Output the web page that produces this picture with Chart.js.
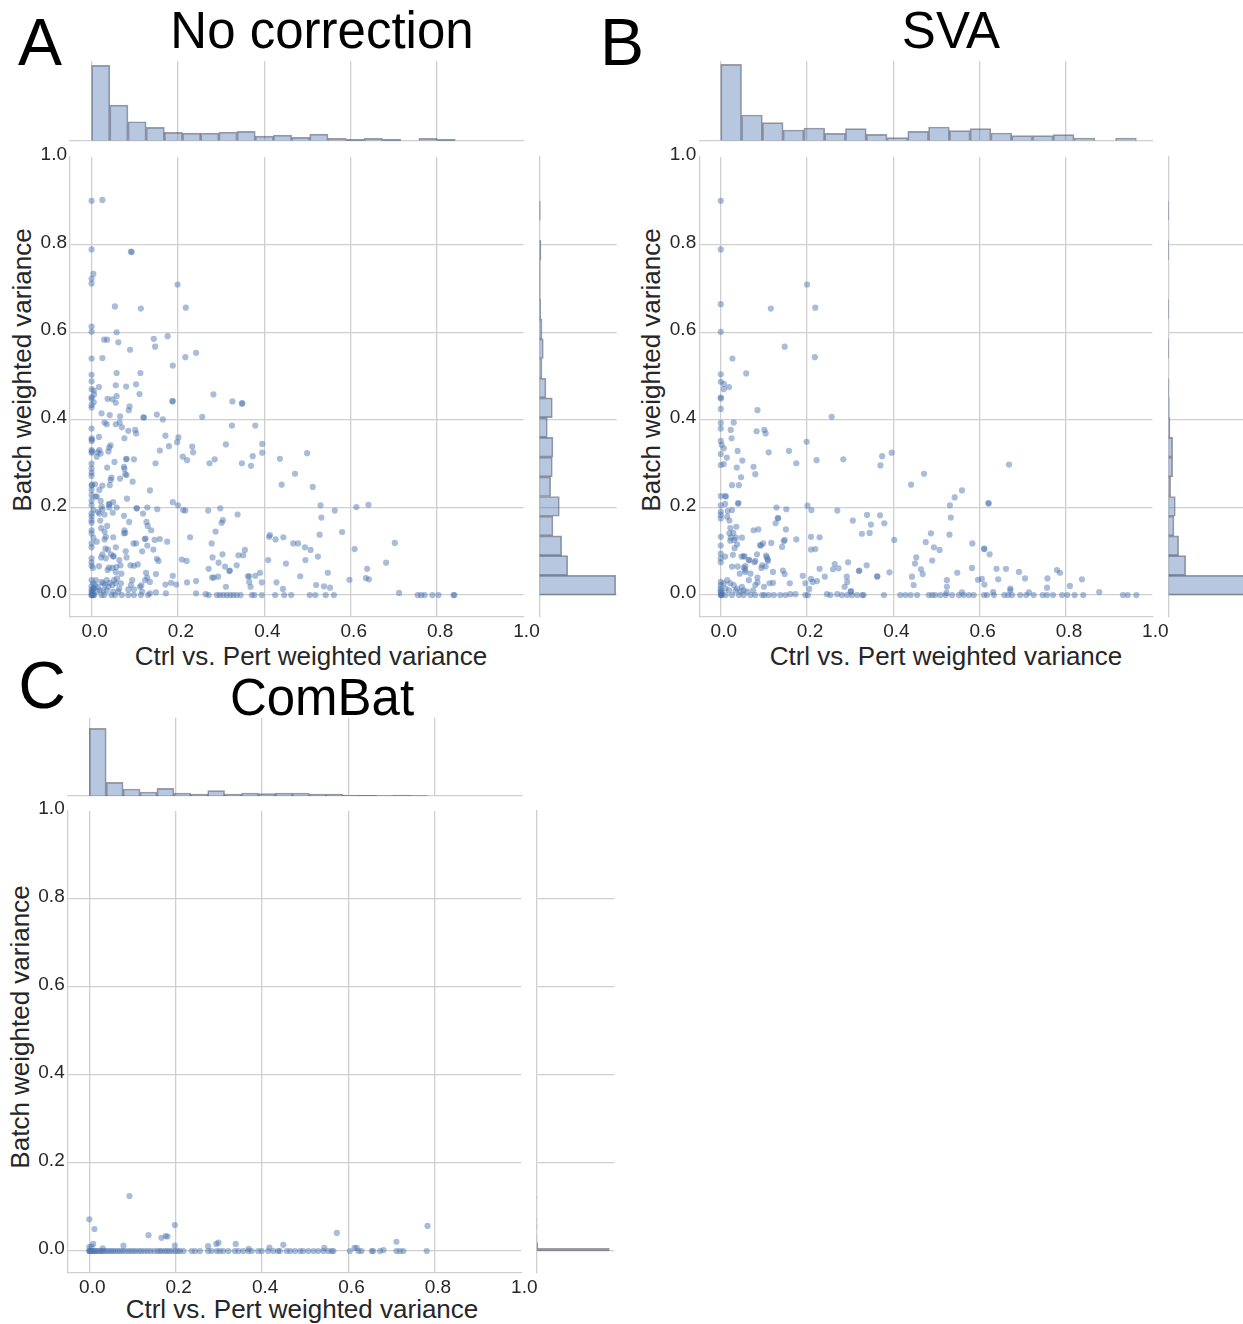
<!DOCTYPE html>
<html>
<head>
<meta charset="utf-8">
<script src="https://cdn.jsdelivr.net/npm/chart.js@4.4.0/dist/chart.umd.min.js"></script>
<style>
  html, body { margin: 0; padding: 0; background: #fff; width: 1243px; height: 1324px; overflow: hidden; position: relative; }
  canvas { position: absolute; }
  .t { position: absolute; font-family: 'Liberation Sans', Arial, sans-serif; white-space: nowrap; line-height: 1; color: #000; transform: translate(-50%, -50%); }
  .axt { font-size: 26px; color: #262626; }
  .rot { transform: translate(-50%, -50%) rotate(-90deg); }
</style>
</head>
<body>
<div class="t" style="left:40px;top:42px;font-size:66px">A</div>
<div class="t" style="left:322px;top:30px;font-size:51px">No correction</div>
<div class="t" style="left:622px;top:42px;font-size:66px">B</div>
<div class="t" style="left:951px;top:30px;font-size:51px">SVA</div>
<div class="t" style="left:42px;top:685px;font-size:66px">C</div>
<div class="t" style="left:322px;top:697px;font-size:51px">ComBat</div>
<div class="t axt" style="left:311px;top:656px">Ctrl vs. Pert weighted variance</div>
<div class="t axt" style="left:946px;top:656px">Ctrl vs. Pert weighted variance</div>
<div class="t axt" style="left:302px;top:1309px">Ctrl vs. Pert weighted variance</div>
<div class="t axt rot" style="left:22px;top:370px">Batch weighted variance</div>
<div class="t axt rot" style="left:651px;top:370px">Batch weighted variance</div>
<div class="t axt rot" style="left:20px;top:1027px">Batch weighted variance</div>
<script>
// ---- tick values shared by every axis ----
const tickValues = [0.0, 0.2, 0.4, 0.6, 0.8, 1.0];
const axisMin = -0.05;
const axisMax = 1.0;

// ---- scatter points [ctrl vs pert variance, batch variance] ----
const ptsNoCorrection = [
  [0,0.9],[0.025,0.902],[0,0.789],[0.091,0.784],[0.093,0.783],[0,0.722],[0,0.711],[0.004,0.733],[0.054,0.659],[0.114,0.654],[0.199,0.709],[0.218,0.656],
  [0,0.613],[0,0.601],[0.029,0.583],[0.036,0.583],[0.058,0.6],[0.062,0.577],[0.025,0.541],[0,0.54],[0.089,0.56],[0.144,0.585],[0.147,0.567],[0.176,0.591],[0.217,0.543],[0.242,0.553],[0.188,0.524],
  [0,0.503],[0,0.488],[0.058,0.507],[0.113,0.507],[0.017,0.475],[0.056,0.479],[0.08,0.476],[0.103,0.481],[0,0.47],[0.005,0.467],[0.006,0.458],[0.111,0.459],
  [0,0.452],[0,0.448],[0.037,0.448],[0.048,0.447],[0.058,0.454],[0.056,0.439],[0,0.434],[0,0.428],[0.005,0.44],[0.088,0.431],[0.086,0.422],[0.187,0.442],[0.188,0.443],[0.282,0.458],[0.326,0.442],[0.348,0.437],[0.349,0.438],
  [0.023,0.415],[0.042,0.411],[0.066,0.408],[0.12,0.406],[0.121,0.405],[0.151,0.412],[0.165,0.401],[0.256,0.407],
  [0.03,0.394],[0.035,0.39],[0.056,0.39],[0.065,0.394],[0.07,0.383],[0.085,0.375],[0.101,0.377],[0.103,0.369],[0,0.38],[0.325,0.387],[0.379,0.387],
  [0.017,0.361],[0,0.358],[0,0.352],[0.001,0.355],[0.076,0.358],[0.171,0.364],[0.201,0.36],
  [0.044,0.342],[0.041,0.337],[0.018,0.331],[0.014,0.326],[0.021,0.323],[0.039,0.328],[0,0.331],[0,0.325],[0.001,0.328],
  [0.158,0.33],[0.179,0.34],[0.198,0.349],[0.211,0.316],[0.221,0.308],[0.233,0.339],[0.235,0.326],[0.311,0.344],[0.395,0.345],[0.395,0.325],[0.373,0.317],[0.436,0.311],
  [0.012,0.316],[0.08,0.31],[0.081,0.311],[0.098,0.31],[0.053,0.304],[0.148,0.301],[0.273,0.301],[0.285,0.31],[0.348,0.301],[0.369,0.295],
  [0,0.3],[0,0.289],[0,0.279],[0,0.272],[0.036,0.291],[0.075,0.293],[0.076,0.288],[0.078,0.276],[0.081,0.274],
  [0.046,0.268],[0.044,0.263],[0.066,0.266],[0.095,0.259],[0.042,0.251],[0,0.25],[0.001,0.252],[0.008,0.253],[0.025,0.25],[0.44,0.252],[0.471,0.277],
  [0.018,0.24],[0.135,0.239],[0,0.24],[0,0.228],[0.009,0.225],[0.012,0.225],[0.021,0.215],[0.082,0.22],[0.04,0.207],[0.041,0.208],[0.05,0.212],
  [0,0.215],[0,0.205],[0.004,0.194],[0.023,0.202],[0.025,0.196],[0.041,0.2],[0.058,0.2],[0.104,0.198],[0.105,0.198],[0.129,0.2],[0.152,0.196],[0.188,0.212],[0.2,0.205],[0.212,0.194],[0.217,0.193],[0.27,0.193],[0.298,0.198],
  [0,0.186],[0,0.18],[0,0.171],[0,0.165],[0.015,0.19],[0.018,0.186],[0.03,0.184],[0.049,0.188],[0.075,0.181],[0.119,0.186],[0.087,0.167],[0.127,0.167],[0.13,0.158],[0.304,0.171],[0.301,0.165],[0.338,0.184],
  [0.02,0.17],[0.022,0.153],[0.036,0.158],[0.03,0.145],[0.033,0.133],[0.03,0.127],[0.076,0.148],[0.078,0.142],[0.075,0.141],[0.138,0.148],[0.287,0.145],
  [0,0.148],[0,0.141],[0.004,0.131],[0.05,0.132],[0.125,0.129],[0.123,0.128],[0.146,0.126],[0.158,0.128],[0.175,0.122],[0.228,0.132],
  [0.413,0.137],[0.411,0.133],[0.426,0.127],[0.444,0.132],[0.467,0.118],[0.478,0.118],
  [0.278,0.118],[0.097,0.118],[0.103,0.118],[0,0.118],[0,0.109],[0.012,0.122],
  [0.032,0.106],[0.038,0.104],[0.056,0.109],[0.079,0.1],[0.117,0.1],[0.129,0.113],[0.143,0.104],
  [0.025,0.093],[0.022,0.086],[0.05,0.088],[0.051,0.089],[0.033,0.084],[0.045,0.093],[0.064,0.08],[0.081,0.086],[0.151,0.083],[0.155,0.078],[0.209,0.081],[0.22,0.078],
  [0.303,0.093],[0.28,0.086],[0.34,0.091],[0.355,0.103],[0.351,0.091],[0.409,0.08],
  [0,0.084],[0,0.075],[0,0.067],[0.003,0.062],[0.017,0.066],[0.04,0.063],[0.048,0.062],[0.057,0.064],[0.067,0.068],[0.09,0.068],[0.098,0.067],[0.107,0.07],[0.037,0.057],[0.069,0.049],[0.056,0.053],
  [0.126,0.051],[0.149,0.048],[0.271,0.06],[0.294,0.074],[0.309,0.065],[0.319,0.055],[0.32,0.056],[0.336,0.068],[0.39,0.051],[0.45,0.072],[0.443,0.014],
  [0.188,0.044],[0.171,0.024],[0.184,0.028],[0.196,0.024],[0.279,0.04],[0.283,0.04],[0.293,0.042],[0.242,0.032],[0.221,0.029],[0.362,0.043],[0.365,0.043],[0.379,0.044],[0.428,0.029],[0.394,0.029],[0.365,0.03],[0.311,0.019],[0.368,0.019],
  [0,0.034],[0.004,0.027],[0.002,0.011],[0.01,0.034],[0.015,0.019],[0.023,0.03],[0.027,0.027],[0.031,0.023],[0.035,0.034],[0.039,0.019],[0.042,0.028],[0.048,0.023],[0.052,0.034],[0.056,0.027],[0.064,0.015],[0.068,0.027],[0.059,0.038],
  [0.004,0.015],[0.012,0.009],[0.019,0.011],[0.027,0.011],[0.035,0.01],[0.05,0.008],[0.062,0.008],[0.085,0.013],[0.091,0.023],[0.098,0.013],[0.094,0.034],[0.112,0.019],[0.115,0.022],[0.124,0.034],[0.129,0.04],[0.135,0.03],
  [0.117,0.008],[0.149,0.006],[0.135,0.004],[0.172,0.004],[0.242,0.004],[0.264,0.002],[0,0.02],[0,0.012],[0,0.006],[0.002,0.004],[0.005,0.015],[0.008,0.022],
  [0,0],[0,0],[0.002,0],[0.004,0],[0.006,0],[0.023,0],[0.029,0],[0.046,0],[0.054,0],[0.07,0],[0.085,0],[0.098,0],[0.114,0],[0.131,0],[0.271,0],[0.29,0],[0.297,0],[0.305,0],[0.313,0],[0.321,0],[0.328,0],[0.336,0],[0.345,0],[0.371,0],[0.377,0],[0.394,0],[0.425,0],[0.446,0],[0.462,0],
  [0.505,0],[0.518,0],[0.542,0],[0.561,0],[0.755,0],[0.763,0],[0.771,0],[0.789,0],[0.803,0],[0.838,0],[0.84,0],
  [0.499,0.324],[0.512,0.247],[0.53,0.205],[0.563,0.193],[0.532,0.177],[0.613,0.201],[0.641,0.206],[0.58,0.144],[0.528,0.138],[0.494,0.109],[0.507,0.103],[0.495,0.08],[0.524,0.088],[0.609,0.105],[0.702,0.119],[0.682,0.074],[0.638,0.06],[0.547,0.051],[0.483,0.043],[0.635,0.039],[0.642,0.036],[0.597,0.035],[0.52,0.023],[0.538,0.02],[0.552,0.017],[0.712,0.005]
];

const ptsSVA = [
  [0,0.9],[0,0.789],[0,0.664],[0,0.601],[0.2,0.709],[0.116,0.654],[0.219,0.656],[0.148,0.567],[0.027,0.54],[0.218,0.543],[0.059,0.506],
  [0,0.504],[0,0.487],[0.007,0.482],[0.007,0.47],[0.019,0.475],[0,0.449],[0,0.451],[0,0.425],[0.085,0.422],[0.257,0.407],
  [0,0.393],[0,0.38],[0.03,0.394],[0.023,0.377],[0.083,0.374],[0.101,0.377],[0.104,0.369],[0.025,0.358],
  [0,0.352],[0.002,0.343],[0.007,0.335],[0,0.322],[0.014,0.314],
  [0.199,0.35],[0.111,0.326],[0.158,0.329],[0.039,0.329],[0.05,0.307],[0.175,0.301],[0.222,0.308],[0.284,0.31],[0.396,0.325],[0.374,0.317],[0.37,0.296],[0.441,0.252],[0.471,0.277],
  [0,0.297],[0.007,0.299],[0.037,0.291],[0.076,0.293],[0.08,0.276],[0.047,0.269],[0.026,0.251],[0.042,0.251],
  [0,0.226],[0.01,0.226],[0.012,0.225],[0,0.205],[0.01,0.208],[0.04,0.209],[0.041,0.21],[0,0.19],[0,0.183],[0,0.175],[0.016,0.192],[0.026,0.194],[0.015,0.179],[0.02,0.17],
  [0.129,0.2],[0.132,0.175],[0.133,0.176],[0.152,0.196],[0.201,0.204],[0.21,0.194],[0.27,0.193],[0.306,0.17],[0.339,0.183],[0.369,0.182],[0.348,0.161],[0.327,0.14],[0.345,0.142],[0.379,0.164],[0.402,0.126],
  [0.022,0.153],[0.02,0.141],[0.036,0.156],[0.029,0.142],[0.076,0.148],[0.087,0.15],[0.127,0.164],[0.151,0.15],[0.148,0.126],[0.146,0.123],[0.175,0.127],[0.209,0.133],[0.229,0.132],[0.219,0.105],[0.209,0.104],
  [0.023,0.131],[0.035,0.131],[0.022,0.124],[0.031,0.126],[0.049,0.131],[0.038,0.116],[0.032,0.107],[0,0.133],[0,0.113],
  [0.117,0.119],[0.142,0.11],[0.098,0.118],[0.093,0.113],[0.091,0.114],[0.084,0.093],[0.105,0.09],[0.107,0.086],[0.109,0.081],[0.065,0.08],[0.048,0.088],[0.053,0.089],[0.055,0.088],[0.028,0.092],[0.01,0.088],[0,0.095],[0,0.084],[0,0.075],
  [0.026,0.065],[0.039,0.065],[0.053,0.063],[0.057,0.066],[0.066,0.08],[0.057,0.053],[0.044,0.049],[0.056,0.058],[0.08,0.078],[0.078,0.075],[0.096,0.068],[0.094,0.062],[0.104,0.065],[0.109,0.078],[0.069,0.049],[0.085,0.04],[0.065,0.034],
  [0.229,0.06],[0.241,0.042],[0.26,0.059],[0.273,0.061],[0.264,0.071],[0.295,0.075],[0.292,0.042],[0.293,0.03],[0.287,0.019],[0.32,0.055],[0.321,0.056],[0.338,0.068],[0.362,0.042],[0.363,0.043],[0.391,0.052],[0.301,0.008],[0.302,0.009],
  [0.121,0.053],[0.144,0.056],[0.148,0.048],[0.16,0.027],[0.19,0.044],[0.196,0.027],[0.209,0.037],[0.213,0.03],[0.223,0.032],[0.205,0.014],[0.085,0.029],[0.1,0.019],[0.113,0.027],[0.121,0.028],
  [0.443,0.042],[0.447,0.023],[0.453,0.086],[0.45,0.072],[0.464,0.059],[0.468,0.048],[0.49,0.079],[0.475,0.121],[0.487,0.141],
  [0,0.03],[0,0.023],[0,0.015],[0.007,0.027],[0.015,0.034],[0.022,0.027],[0.03,0.023],[0.038,0.015],[0.049,0.019],[0.053,0.011],[0.061,0.008],[0.011,0.015],[0.019,0.011],[0.034,0.01],[0.046,0.008],[0.075,0.011],[0.08,0.023],[0,0.006],[0,0.01],[0.003,0.004],
  [0,0],[0.001,0],[0.002,0],[0.011,0],[0.026,0],[0.042,0],[0.053,0],[0.069,0],[0.08,0],[0.096,0],[0.101,0],[0.111,0],[0.123,0],[0.138,0],[0.15,0],[0.161,0.002],[0.173,0.002],[0.196,0],[0.202,0],[0.246,0.002],[0.254,0],[0.27,0.002],[0.281,0],[0.293,0],[0.304,0],[0.316,0],[0.328,0],[0.331,0],[0.378,0],[0.416,0],[0.428,0],[0.44,0],[0.455,0],[0.482,0],[0.49,0],
  [0.497,0],[0.509,0],[0.521,0],[0.536,0],[0.552,0],[0.563,0],[0.575,0],[0.586,0],[0.61,0],[0.617,0],[0.633,0],[0.657,0],[0.666,0],[0.675,0],[0.694,0],[0.708,0],[0.725,0],[0.746,0],[0.756,0],[0.77,0],[0.791,0],[0.803,0],[0.82,0],[0.84,0],[0.932,0],[0.943,0],[0.963,0],
  [0.668,0.298],[0.559,0.239],[0.542,0.223],[0.531,0.205],[0.533,0.177],[0.62,0.21],[0.621,0.209],[0.53,0.138],[0.583,0.118],[0.61,0.105],[0.611,0.106],[0.623,0.093],[0.494,0.109],[0.507,0.103],[0.582,0.062],[0.548,0.051],[0.524,0.034],[0.524,0.019],[0.596,0.035],[0.605,0.037],[0.611,0.024],[0.639,0.06],[0.643,0.036],[0.661,0.06],[0.671,0.015],[0.671,0.011],[0.691,0.053],[0.705,0.038],[0.757,0.038],[0.756,0.017],[0.779,0.057],[0.786,0.051],[0.837,0.036],[0.809,0.021],[0.877,0.007],[0.523,0.005],[0.559,0.006],[0.631,0.007],[0.714,0.006]
];

const ptsComBat = [
  [0.093,0.125],[0,0.072],[0.012,0.05],[0.198,0.059],[0.137,0.036],[0.167,0.03],[0.177,0.034],[0.181,0.033],[0.783,0.057],[0.573,0.041],[0.711,0.021],
  [0.009,0.016],[0.005,0.01],[0,0.009],[0.031,0.006],[0.079,0.012],[0.198,0.012],[0.275,0.011],[0.294,0.016],[0.299,0.019],[0.339,0.016],[0.449,0.014],[0.417,0.008],[0.369,0.005],[0.544,0.007],[0.614,0.007],[0.619,0.007],[0.681,0.002],[0.781,0],
  [0,0],[0,0],[0.002,0],[0.004,0],[0.007,0],[0.01,0],[0.013,0],[0.016,0],[0.02,0],[0.024,0],[0.028,0],[0.031,0],[0.035,0],[0.04,0],[0.045,0],[0.05,0],[0.055,0],[0.06,0],[0.066,0],[0.071,0],[0.077,0],
  [0.083,0],[0.09,0],[0.096,0],[0.102,0],[0.108,0],[0.115,0],[0.121,0],[0.128,0],[0.135,0],[0.142,0],[0.15,0],[0.158,0],[0.163,0],[0.168,0],[0.175,0],[0.18,0],[0.186,0],[0.192,0],[0.199,0],[0.205,0],[0.21,0],
  [0.218,0],[0.237,0],[0.245,0],[0.256,0],[0.275,0],[0.283,0],[0.295,0],[0.302,0],[0.31,0],[0.322,0],[0.337,0],[0.345,0],[0.356,0],[0.368,0],[0.376,0],[0.391,0],[0.399,0],[0.414,0],[0.426,0],[0.437,0],[0.441,0],
  [0.457,0],[0.465,0],[0.476,0],[0.488,0],[0.495,0],[0.507,0],[0.519,0],[0.53,0],[0.542,0],[0.553,0],[0.561,0],[0.565,0],[0.603,0],[0.623,0],[0.63,0],[0.654,0],[0.657,0],[0.673,0],[0.711,0],[0.719,0],[0.727,0]
];

// ---- marginal histogram counts (20 bins each) and bin ranges ----
const histNoCorrTop = [227,107,57,40,25,23,23,26,28,14,17,10,20,7,4,7,4,0,7,4];
const histNoCorrTopRange = [0, 0.842];
const histNoCorrRight = [229,85,67,41,60,34,39,41,24,39,20,8,12,8,4,3,3,5,0,3];
const histNoCorrRightRange = [0, 0.9];
const histSVATop = [229,77,54,32,38,22,36,19,9,28,41,30,36,23,15,15,18,8,0,8];
const histSVATopRange = [0, 0.963];
const histSVARight = [250,52,31,17,21,7,13,13,5,3,2,0,1,0,1,0,0,1,0,1];
const histSVARightRange = [0, 0.9];
const histComBatTop = [203,41,21,12,23,9,6,16,6,9,7,9,9,6,6,3,2,1,3,1];
const histComBatTopRange = [0, 0.783];
const histComBatRight = [218,3,3,1,1,1,0,0,1,1,0,1,0,0,0,0,0,0,0,1];
const histComBatRightRange = [0, 0.125];

// ---- styling ----
const FONT = "'Liberation Sans', Arial, sans-serif";
const GRID = '#cfcfcf';
const POINT = 'rgba(76,114,176,0.48)';
const BAR = 'rgba(76,114,176,0.4)';
const EDGE = 'rgba(60,60,75,0.5)';

function makeCanvas(left, top, w, h) {
  const c = document.createElement('canvas');
  c.width = w; c.height = h;
  c.style.left = left + 'px'; c.style.top = top + 'px';
  c.style.width = w + 'px'; c.style.height = h + 'px';
  document.body.appendChild(c);
  return c;
}

function gridColor(ctx) {
  return ctx.tick && ctx.tick.value > 0.99 ? 'rgba(0,0,0,0)' : GRID;
}

function setTicks(scale) {
  scale.ticks = tickValues.map(v => ({ value: v }));
}

function baseOptions(padding) {
  return {
    responsive: false,
    animation: false,
    devicePixelRatio: 1,
    events: [],
    layout: { padding },
    plugins: { legend: { display: false }, tooltip: { enabled: false } }
  };
}

function valueScale(extra) {
  return Object.assign({
    type: 'linear', min: axisMin, max: axisMax, offset: false,
    afterBuildTicks: setTicks,
    grid: { color: gridColor, lineWidth: 1.3, drawTicks: false, offset: false },
    border: { display: true, color: GRID, width: 1.3 }
  }, extra);
}

function binCenters(range, n) {
  const w = (range[1] - range[0]) / n;
  return Array.from({ length: n }, (_, i) => range[0] + (i + 0.5) * w);
}

function scatterPanel(box, pts) {
  const canvas = makeCanvas(box.left, box.top, box.w, box.h);
  new Chart(canvas, {
    type: 'scatter',
    data: { datasets: [{
      data: pts.map(p => ({ x: p[0], y: p[1] })),
      pointRadius: 3.1, pointHoverRadius: 3.1, backgroundColor: POINT, borderWidth: 0
    }] },
    options: Object.assign(baseOptions(box.pad), {
      scales: {
        x: valueScale({
          position: 'bottom',
          afterFit: s => { s.height = 40; },
          ticks: { font: { family: FONT, size: 19 }, color: '#262626', padding: 3, labelOffset: 3, maxRotation: 0, callback: v => v.toFixed(1) }
        }),
        y: valueScale({
          position: 'left',
          afterFit: s => { s.width = box.yWidth; },
          ticks: { font: { family: FONT, size: 19 }, color: '#262626', padding: 3, labelOffset: -2, callback: v => v.toFixed(1) }
        })
      }
    })
  });
}

function topHist(box, counts, range, ymax) {
  const canvas = makeCanvas(box.left, box.top, box.w, box.h);
  const centers = binCenters(range, counts.length);
  new Chart(canvas, {
    type: 'bar',
    data: { datasets: [{
      data: counts.map((c, i) => ({ x: centers[i], y: c })),
      backgroundColor: BAR, borderColor: EDGE, borderWidth: 1,
      barPercentage: 1, categoryPercentage: 1
    }] },
    options: Object.assign(baseOptions(box.pad), {
      scales: {
        x: valueScale({
          position: 'bottom',
          afterFit: s => { s.height = 0; },
          ticks: { display: false }
        }),
        y: { type: 'linear', display: false, min: 0, max: ymax }
      }
    })
  });
}

function rightHist(box, counts, range, xmax) {
  const canvas = makeCanvas(box.left, box.top, box.w, box.h);
  const centers = binCenters(range, counts.length);
  new Chart(canvas, {
    type: 'bar',
    data: { datasets: [{
      data: counts.map((c, i) => ({ x: c, y: centers[i] })),
      backgroundColor: BAR, borderColor: EDGE, borderWidth: 1,
      barPercentage: 1, categoryPercentage: 1
    }] },
    options: Object.assign(baseOptions(box.pad), {
      indexAxis: 'y',
      scales: {
        y: valueScale({
          position: 'left',
          afterFit: s => { s.width = 0; },
          ticks: { display: false }
        }),
        x: { type: 'linear', display: false, min: 0, max: xmax }
      }
    })
  });
}

// ---- panel A: no correction ----
scatterPanel({ left: 0, top: 140, w: 560, h: 520, yWidth: 70, pad: { left: 0, top: 17, right: 36.5, bottom: 3 } }, ptsNoCorrection);
topHist({ left: 0, top: 50, w: 560, h: 100, pad: { left: 70, top: 11, right: 36.5, bottom: 9.3 } }, histNoCorrTop, histNoCorrTopRange, 240);
rightHist({ left: 530, top: 140, w: 100, h: 520, pad: { left: 9.3, top: 17, right: 13.3, bottom: 43 } }, histNoCorrRight, histNoCorrRightRange, 232);

// ---- panel B: SVA ----
scatterPanel({ left: 628.5, top: 140, w: 560, h: 520, yWidth: 70.2, pad: { left: 0, top: 17, right: 36.7, bottom: 3 } }, ptsSVA);
topHist({ left: 628.5, top: 50, w: 560, h: 100, pad: { left: 70.2, top: 11, right: 36.7, bottom: 9.3 } }, histSVATop, histSVATopRange, 239);
rightHist({ left: 1159, top: 140, w: 100, h: 520, pad: { left: 9.3, top: 17, right: 13.3, bottom: 43 } }, histSVARight, histSVARightRange, 232);

// ---- panel C: ComBat ----
scatterPanel({ left: 0, top: 795, w: 560, h: 540, yWidth: 67.7, pad: { left: 0, top: 16, right: 38.7, bottom: 22 } }, ptsComBat);
topHist({ left: 0, top: 705, w: 560, h: 100, pad: { left: 67.7, top: 12.7, right: 38.7, bottom: 9 } }, histComBatTop, histComBatTopRange, 235);
rightHist({ left: 527, top: 795, w: 100, h: 520, pad: { left: 9.7, top: 16, right: 12.7, bottom: 42 } }, histComBatRight, histComBatRightRange, 233);
</script>
</body>
</html>
